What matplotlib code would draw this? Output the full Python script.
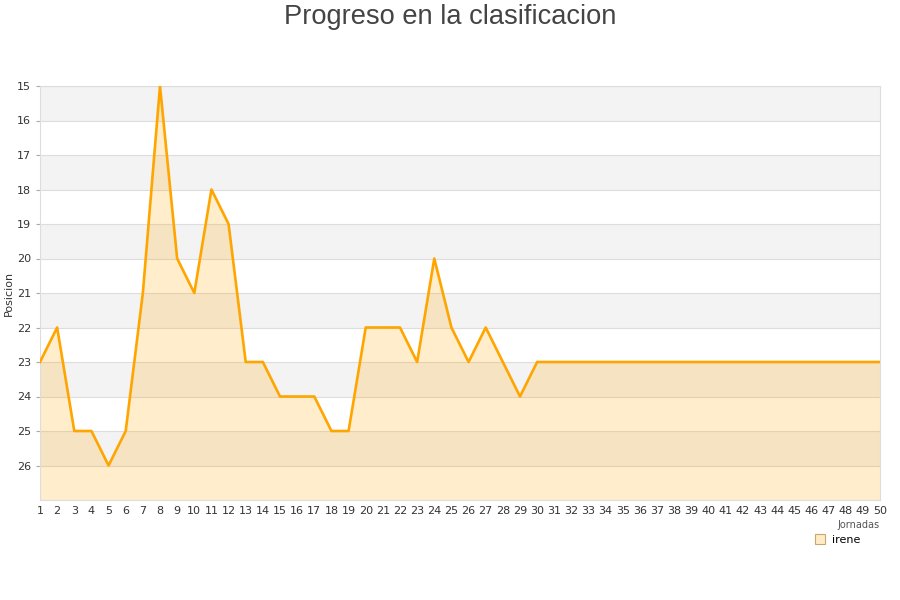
import matplotlib.pyplot as plt
from matplotlib.lines import Line2D

jornadas = list(range(1, 51))
posicion = [23, 22, 25, 25, 26, 25, 21, 15, 20, 21,
            18, 19, 23, 23, 24, 24, 24, 25, 25, 22,
            22, 22, 23, 20, 22, 23, 22, 23, 24, 23] + [23] * 20
y_ticks = list(range(15, 27))

fig = plt.figure(figsize=(9, 6), dpi=100)
ax = fig.add_axes([40/900, 100/600, 840/900, 414/600])

# alternating horizontal bands
for k in range(15, 27, 2):
    ax.axhspan(k, k + 1, color='#f3f3f3', lw=0, zorder=0)
for k in range(15, 28):
    ax.axhline(k, color='#dddddd', lw=0.8, zorder=1)

ax.fill_between(jornadas, posicion, 27, color='#ffa500', alpha=0.2, lw=0, zorder=2)
ax.plot(jornadas, posicion, color='#ffa500', lw=1.9, zorder=3)

ax.set_xlim(1, 50)
ax.set_ylim(27, 15)
ax.set_xticks(jornadas)
ax.set_yticks(y_ticks)
ax.tick_params(axis='both', labelsize=8, colors='#333333', length=3, color='#aaaaaa')
ax.tick_params(axis='x', length=0, pad=4)
for s in ax.spines.values():
    s.set_color('#dddddd')
ax.set_ylabel('Posicion', fontsize=8, color='#333333', labelpad=2)
ax.set_xlabel('Jornadas', fontsize=7, color='#555555', loc='right', labelpad=3)

fig.suptitle('Progreso en la clasificacion', fontsize=19.6, color='#444444',
             family='Liberation Sans', y=0.993)

handle = Line2D([], [], marker='s', ls='none', markersize=7,
                markerfacecolor='#ffebc6', markeredgecolor='#c9a66b', markeredgewidth=0.8)
leg = fig.legend([handle], ['irene'], loc='upper left', bbox_to_anchor=(808/900, 1 - 528/600),
                 fontsize=8, frameon=True, framealpha=1, edgecolor='white', facecolor='white',
                 handlelength=0.8, handletextpad=0.7, borderpad=0.15, fancybox=False)
leg.set_zorder(10)

fig.savefig('out.png', dpi=100)
